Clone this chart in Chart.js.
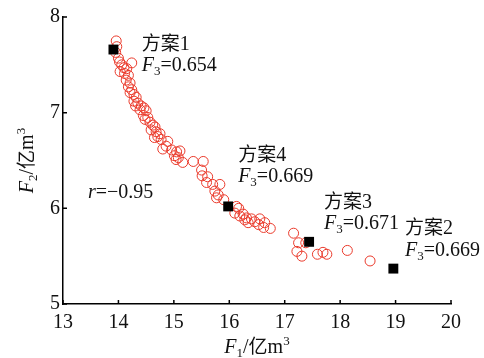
<!DOCTYPE html>
<html><head><meta charset="utf-8">
<script src="https://cdn.jsdelivr.net/npm/chart.js@4.4.0/dist/chart.umd.min.js"></script>
<style>html,body{margin:0;padding:0;background:#fff}</style>
</head><body>
<canvas id="c" width="484" height="358" style="width:484px;height:358px;display:block"></canvas>
<script>
// ---- data ----
const xTicks = [13, 14, 15, 16, 17, 18, 19, 20];
const yTicks = [5, 6, 7, 8];
const paretoF1 = [13.96,13.97,13.95,14.00,14.02,14.06,14.24,14.10,14.15,14.03,14.11,14.18,14.14,14.21,14.18,14.24,14.21,14.28,14.32,14.28,14.35,14.31,14.41,14.39,14.46,
  14.50,14.45,14.53,14.48,14.57,14.62,14.66,14.59,14.68,14.75,14.65,14.77,14.71,14.89,14.86,14.80,14.96,15.05,15.11,15.01,15.08,15.04,15.16,15.35,15.53,
  15.50,15.51,15.61,15.59,15.70,15.83,15.74,15.80,15.77,15.90,16.13,16.17,16.10,16.19,16.25,16.31,16.40,16.46,16.34,16.53,16.55,16.64,16.62,16.74,16.28,
  17.16,17.25,17.38,17.22,17.31,17.59,17.69,17.76,18.13,18.54];
const paretoF2 = [7.75,7.69,7.63,7.57,7.53,7.50,7.52,7.47,7.46,7.43,7.41,7.39,7.34,7.31,7.27,7.24,7.21,7.19,7.16,7.12,7.10,7.07,7.07,7.03,7.05,
  7.02,6.97,6.95,6.93,6.90,6.87,6.85,6.82,6.80,6.78,6.74,6.72,6.75,6.70,6.65,6.62,6.61,6.59,6.60,6.55,6.53,6.51,6.48,6.49,6.49,
  6.40,6.34,6.33,6.27,6.25,6.25,6.18,6.14,6.11,6.09,6.02,6.00,5.95,5.92,5.94,5.90,5.89,5.86,5.85,5.83,5.89,5.85,5.80,5.79,5.88,
  5.74,5.64,5.64,5.55,5.50,5.52,5.54,5.52,5.56,5.45];
const schemeNames = ['方案1', '方案2', '方案3', '方案4'];
const schemeF1 = [13.91, 18.96, 17.44, 15.98];
const schemeF2 = [7.66, 5.37, 5.65, 6.02];
const schemeF3 = ['0.654', '0.669', '0.671', '0.669'];
const corrR = '−0.95';

// ---- styling ----
const SERIF = '"Liberation Serif","Times New Roman",serif';
const CJK = '"Noto Sans CJK SC","Noto Sans CJK JP",sans-serif';
const FS = 20;
// label anchors (data units): left edge, baseline of first line
const labelAnchors = [
  {x: 14.42, y: 7.65, gap: 21},
  {x: 19.17, y: 5.73, gap: 22},
  {x: 17.71, y: 6.00, gap: 21},
  {x: 16.16, y: 6.50, gap: 21}
];
const rAnchor = {x: 13.45, y: 6.11};

function drawParts(ctx, parts, x, y) {
  let cx = x;
  for (const p of parts) {
    ctx.font = p.font;
    ctx.fillText(p.t, cx, y + (p.dy || 0));
    cx += ctx.measureText(p.t).width;
  }
  return cx - x;
}
function measureParts(ctx, parts) {
  let w = 0;
  for (const p of parts) { ctx.font = p.font; w += ctx.measureText(p.t).width; }
  return w;
}
const reg = FS + 'px ' + SERIF;
const ita = 'italic ' + FS + 'px ' + SERIF;
const sub = '13px ' + SERIF;
const cjk = (FS - 1) + 'px ' + CJK;

const decor = {
  id: 'decor',
  afterDraw(chart) {
    const ctx = chart.ctx;
    const xs = chart.scales.x, ys = chart.scales.y;
    const a = chart.chartArea;
    ctx.save();
    ctx.strokeStyle = '#000';
    ctx.lineWidth = 1.5;
    ctx.beginPath();
    xTicks.forEach(v => { const p = xs.getPixelForValue(v); ctx.moveTo(p, a.bottom); ctx.lineTo(p, a.bottom - 4); });
    yTicks.forEach(v => { const p = ys.getPixelForValue(v); ctx.moveTo(a.left, p); ctx.lineTo(a.left + 4, p); });
    ctx.stroke();

    ctx.fillStyle = '#111';
    ctx.textBaseline = 'alphabetic';
    ctx.textAlign = 'left';
    // scheme labels
    schemeNames.forEach((name, i) => {
      const an = labelAnchors[i];
      const px = xs.getPixelForValue(an.x), py = ys.getPixelForValue(an.y);
      const num = name.replace('方案', '');
      drawParts(ctx, [{t: '方案', font: cjk}, {t: num, font: reg}], px, py);
      drawParts(ctx, [{t: 'F', font: ita}, {t: '3', font: sub, dy: 4}, {t: '=' + schemeF3[i], font: reg}], px, py + an.gap);
    });
    // correlation
    drawParts(ctx, [{t: 'r', font: ita}, {t: '=' + corrR, font: reg}], xs.getPixelForValue(rAnchor.x), ys.getPixelForValue(rAnchor.y));

    // x title
    const xt = [{t: 'F', font: ita}, {t: '1', font: sub, dy: 4}, {t: '/', font: reg}, {t: '亿', font: cjk}, {t: 'm', font: reg}, {t: '3', font: sub, dy: -8}];
    const cx = (a.left + a.right) / 2;
    drawParts(ctx, xt, cx - measureParts(ctx, xt) / 2, 353);
    // y title
    const yt = [{t: 'F', font: ita}, {t: '2', font: sub, dy: 4}, {t: '/', font: reg}, {t: '亿', font: cjk}, {t: 'm', font: reg}, {t: '3', font: sub, dy: -8}];
    ctx.translate(33, (a.top + a.bottom) / 2);
    ctx.rotate(-Math.PI / 2);
    drawParts(ctx, yt, -measureParts(ctx, yt) / 2, 0);
    ctx.restore();
  }
};

new Chart(document.getElementById('c'), {
  type: 'scatter',
  data: {
    datasets: [
      {
        label: 'schemes',
        data: schemeF1.map((x, i) => ({x, y: schemeF2[i]})),
        pointStyle: 'rect', pointRadius: 7, backgroundColor: '#000', borderColor: '#000', borderWidth: 0
      },
      {
        label: 'pareto',
        data: paretoF1.map((x, i) => ({x, y: paretoF2[i]})),
        pointStyle: 'circle', pointRadius: 5, backgroundColor: 'rgba(0,0,0,0)', borderColor: '#ea3a2b', borderWidth: 1
      }
    ]
  },
  options: {
    responsive: false, animation: false, devicePixelRatio: 1,
    layout: {padding: {top: 17, right: 33, left: 0, bottom: 0}},
    plugins: {legend: {display: false}, tooltip: {enabled: false}},
    scales: {
      x: {
        type: 'linear', min: 13, max: 20,
        afterBuildTicks: s => { s.ticks = xTicks.map(v => ({value: v})); },
        grid: {display: false, drawTicks: false},
        border: {display: true, color: '#000', width: 1.5},
        ticks: {padding: 7, font: {family: SERIF, size: FS}, color: '#111', maxRotation: 0},
        afterFit: s => { s.height = 54; }
      },
      y: {
        type: 'linear', min: 5, max: 8,
        afterBuildTicks: s => { s.ticks = yTicks.map(v => ({value: v})); },
        grid: {display: false, drawTicks: false},
        border: {display: true, color: '#000', width: 1.5},
        ticks: {padding: 3, font: {family: SERIF, size: FS}, color: '#111'},
        afterFit: s => { s.width = 63; }
      }
    }
  },
  plugins: [decor]
});
</script>
</body></html>
